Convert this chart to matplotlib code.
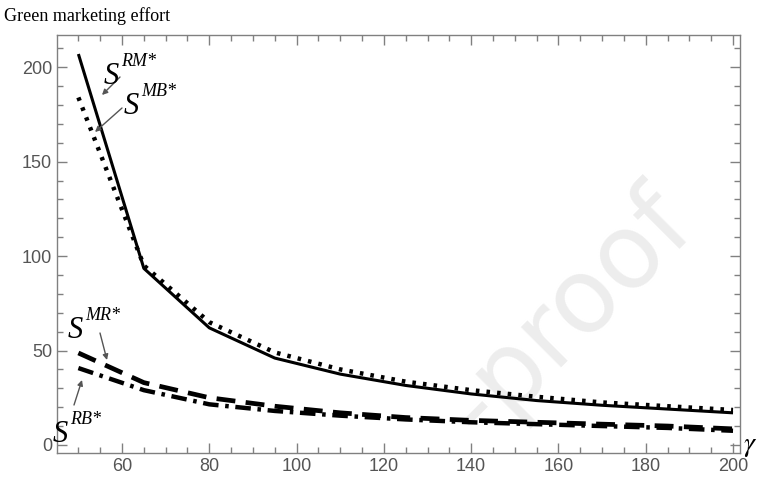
import matplotlib
matplotlib.use("Agg")
import matplotlib.pyplot as plt
from matplotlib.ticker import MultipleLocator

gamma = [50, 65, 80, 95, 110, 125, 140, 155, 170, 185, 200]
s_rm = [207, 93.5, 62, 46, 37.5, 31.5, 27, 23.5, 21, 19, 17]
s_mb = [184, 95, 65, 49, 40, 33.5, 29, 25.5, 22.5, 20.5, 18.5]
s_mr = [48.7, 33, 25, 20.5, 17, 14.5, 13, 12, 11, 10, 8.5]
s_rb = [40.7, 29, 21.5, 18, 15.5, 13.5, 12, 11, 10, 9, 7.5]

fig = plt.figure(figsize=(7.6, 4.88), dpi=100)
ax = fig.add_axes([0.075, 0.072, 0.8987, 0.856])

gray = '#808080'
ax.text(0.75, 0.33, '-proof', transform=ax.transAxes, rotation=45,
        fontsize=74, color='#ededed', ha='center', va='center', zorder=0,
        family='DejaVu Sans')

ax.plot(gamma, s_rm, color='black', lw=2.2, ls='-', solid_capstyle='butt', zorder=3)
ax.plot(gamma, s_mb, color='black', lw=3.2, ls=(0, (0.8, 1.6)), zorder=3)
ax.plot(gamma, s_mr, color='black', lw=3.4, ls=(0, (4, 2.2)), zorder=3)
ax.plot(gamma, s_rb, color='black', lw=3.2, ls=(0, (3.5, 1.5, 0.8, 1.5)), zorder=3)

ax.set_xlim(45.1, 201.6)
ax.set_ylim(-4.2, 217)
ax.xaxis.set_major_locator(MultipleLocator(20))
ax.xaxis.set_minor_locator(MultipleLocator(5))
ax.yaxis.set_major_locator(MultipleLocator(50))
ax.yaxis.set_minor_locator(MultipleLocator(10))
ax.tick_params(which='both', direction='in', top=True, right=True, color=gray,
               labelcolor='#555555', labelsize=13, width=1)
ax.tick_params(which='major', length=7)
ax.tick_params(which='minor', length=4)
for lab in ax.get_xticklabels() + ax.get_yticklabels():
    lab.set_family('Liberation Sans')
for sp in ax.spines.values():
    sp.set_color(gray)
    sp.set_linewidth(1)

serif = 'Liberation Serif'
fig.text(0.005, 0.985, 'Green marketing effort', family=serif, fontsize=13,
         ha='left', va='top')
fig.text(0.978, 0.088, r'$\gamma$', fontsize=20, ha='left', va='center',
         math_fontfamily='stix')


def arr(x0, y0, x1, y1):
    ax.annotate('', xy=(x1 / 760, 1 - y1 / 488), xytext=(x0 / 760, 1 - y0 / 488),
                xycoords='figure fraction', textcoords='figure fraction',
                arrowprops=dict(arrowstyle='-|>', color='#555555', lw=1,
                                mutation_scale=8, shrinkA=0, shrinkB=0))


def lab(x, y, sup):
    # big italic S with raised superscript
    fig.text(x / 760, 1 - y / 488, 'S', fontsize=22, family=serif, style='italic',
             ha='center', va='center')
    fig.text((x + 10) / 760, 1 - (y - 15) / 488, sup + '*', fontsize=13,
             family=serif, style='italic', ha='left', va='center')


lab(111, 76, 'RM')
lab(131, 107, 'MB')
lab(75, 330, 'MR')
lab(60, 434, 'RB')
arr(120, 77, 102, 95)
arr(122, 108, 95, 132)
arr(100, 333, 107, 360)
arr(74, 405, 82, 380)

fig.savefig('out.png', dpi=100)
